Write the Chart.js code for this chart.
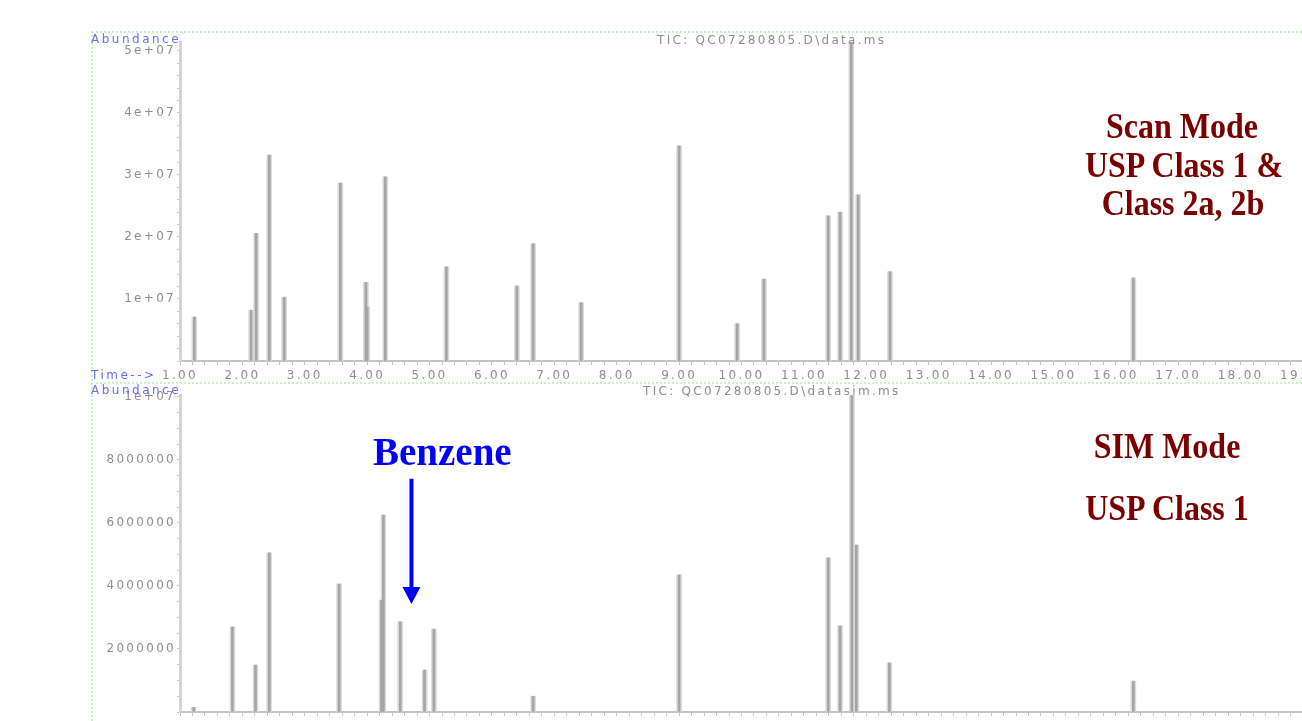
<!DOCTYPE html>
<html>
<head>
<meta charset="utf-8">
<script src="https://cdn.jsdelivr.net/npm/chart.js@4/dist/chart.umd.min.js"></script>
<style>
  html, body { margin: 0; padding: 0; background: #fff; overflow: hidden; }
  body { width: 1302px; height: 721px; position: relative; }
  canvas { position: absolute; }
  .frame { position: absolute; border-color: #c9f0c9; border-style: dotted; border-width: 0; }
  .gray { position: absolute; font: 12px "DejaVu Sans"; letter-spacing: 2.3px; color: #8e8e8e; white-space: nowrap; line-height: 12px; }
  .blue { position: absolute; font: 12px "DejaVu Sans"; letter-spacing: 2.5px; color: #6b6bf5; white-space: nowrap; line-height: 12px; }
  .red { position: absolute; width: 320px; text-align: center; font: bold 32px "Liberation Serif"; line-height: 32px;
         color: #7a0000; white-space: nowrap; transform: scaleY(1.12); transform-origin: 50% 27px; }
  #benzene { position: absolute; left: 373px; top: 432px; font: bold 39px "Liberation Serif"; line-height: 39px; color: #0000ff; }
</style>
</head>
<body>
<div class="frame" style="left:91px; top:31px; width:1211px; border-top-width:2px;"></div>
<div class="frame" style="left:91px; top:31px; height:690px; border-left-width:2px;"></div>
<div class="frame" style="left:91px; top:382px; width:1211px; border-top-width:2px;"></div>

<canvas id="topChart" width="1240" height="353" style="left:90px; top:30px;"></canvas>
<canvas id="simChart" width="1240" height="351" style="left:90px; top:383px;"></canvas>

<div class="blue" style="left:91px; top:33px;">Abundance</div>
<div class="gray" style="left:657px; top:34px;">TIC: QC07280805.D\data.ms</div>
<div class="blue" style="left:91px; top:369px;">Time--&gt;</div>
<div class="blue" style="left:91px; top:384px;">Abundance</div>
<div class="gray" style="left:643px; top:385px;">TIC: QC07280805.D\datasim.ms</div>

<div class="red" style="left:1022px; top:111px;">Scan Mode</div>
<div class="red" style="left:1024px; top:150px;">USP Class 1 &amp;</div>
<div class="red" style="left:1023px; top:188px;">Class 2a, 2b</div>
<div class="red" style="left:1007px; top:431px;">SIM Mode</div>
<div class="red" style="left:1007px; top:493px;">USP Class 1</div>
<div id="benzene">Benzene</div>

<script>
// retention time axis (min)
const xMin = 1.0, xMax = 19.0;
const xTickValues = [1, 2, 3, 4, 5, 6, 7, 8, 9, 10, 11, 12, 13, 14, 15, 16, 17, 18, 19];
const xTickLabels = ['1.00', '2.00', '3.00', '4.00', '5.00', '6.00', '7.00', '8.00', '9.00', '10.00',
                     '11.00', '12.00', '13.00', '14.00', '15.00', '16.00', '17.00', '18.00', '19.00'];

// scan mode TIC peaks
const scanTimes = [1.23, 2.14, 2.22, 2.43, 2.67, 3.57, 3.98, 4.00, 4.29, 5.27, 6.40, 6.66, 7.43,
                   9.00, 9.93, 10.36, 11.39, 11.58, 11.76, 11.87, 12.38, 16.28];
const scanAbundance = [0.71e7, 0.82e7, 2.06e7, 3.32e7, 1.03e7, 2.87e7, 1.27e7, 0.87e7, 2.97e7, 1.52e7, 1.21e7, 1.89e7, 0.94e7,
                       3.47e7, 0.60e7, 1.32e7, 2.34e7, 2.40e7, 5.40e7, 2.68e7, 1.44e7, 1.34e7];
const scanYMax = 5.145e7;
const scanYTicks = [1e7, 2e7, 3e7, 4e7, 5e7];
const scanYLabels = ['1e+07', '2e+07', '3e+07', '4e+07', '5e+07'];

// SIM mode TIC peaks
const simTimes = [1.22, 1.84, 2.21, 2.43, 3.55, 4.23, 4.26, 4.53, 4.92, 5.07, 6.66,
                  9.00, 11.39, 11.58, 11.77, 11.84, 12.37, 16.28];
const simAbundance = [0.15e6, 2.70e6, 1.49e6, 5.05e6, 4.06e6, 3.55e6, 6.25e6, 2.86e6, 1.33e6, 2.63e6, 0.50e6,
                      4.35e6, 4.89e6, 2.73e6, 1.05e7, 5.30e6, 1.56e6, 0.98e6];
const simYMax = 1.006e7;
const simYTicks = [2e6, 4e6, 6e6, 8e6, 1e7];
const simYLabels = ['2000000', '4000000', '6000000', '8000000', '1e+07'];

// benzene marker: time, arrow start abundance, arrow tip abundance
const benzeneArrow = [4.71, 7.4e6, 3.43e6];

const tickFont = { family: 'DejaVu Sans', size: 12 };
const tickGray = '#8e8e8e';

const spacing = {
    id: 'spacing',
    beforeDraw(chart) { chart.ctx.letterSpacing = '2.3px'; }
};

const arrow = {
    id: 'arrow',
    afterDatasetsDraw(chart) {
        if (chart.canvas.id !== 'simChart') return;
        const x = chart.scales.x.getPixelForValue(benzeneArrow[0]);
        const y0 = chart.scales.y.getPixelForValue(benzeneArrow[1]);
        const y1 = chart.scales.y.getPixelForValue(benzeneArrow[2]);
        const ctx = chart.ctx;
        ctx.save();
        ctx.fillStyle = '#0000ff';
        ctx.fillRect(x - 2, y0, 4, y1 - y0 - 14);
        ctx.beginPath();
        ctx.moveTo(x - 9, y1 - 17);
        ctx.lineTo(x + 9, y1 - 17);
        ctx.lineTo(x, y1);
        ctx.closePath();
        ctx.fill();
        ctx.restore();
    }
};

function makeChart(id, times, values, yMax, yTicks, yLabels, minorStep) {
    const pts = times.map((t, i) => ({ x: t, y: values[i] }));
    return new Chart(document.getElementById(id), {
        type: 'bar',
        data: {
            datasets: [
                { data: pts, backgroundColor: '#a3a6a3', barThickness: 2, grouped: false },
                { data: pts, backgroundColor: '#dcd8dc', barThickness: 5, grouped: false }
            ]
        },
        options: {
            responsive: false,
            animation: false,
            events: [],
            layout: { padding: { top: 12, right: 27, left: 0, bottom: 0 } },
            plugins: { legend: { display: false }, tooltip: { enabled: false } },
            scales: {
                x: {
                    type: 'linear',
                    min: xMin,
                    max: xMax,
                    offset: false,
                    afterFit: s => { s.height = 22; },
                    afterBuildTicks: s => {
                        const t = [];
                        for (let v = xMin; v <= xMax + 1e-9; v += 0.2) t.push({ value: Math.round(v * 10) / 10 });
                        s.ticks = t;
                    },
                    grid: { drawOnChartArea: false, tickLength: 4, tickColor: '#c6c6c6', offset: false },
                    border: { color: '#c4c4c4', width: 2 },
                    ticks: {
                        autoSkip: false, maxRotation: 0, padding: 4,
                        font: tickFont, color: tickGray,
                        callback: v => {
                            const i = xTickValues.indexOf(v);
                            return i < 0 ? '' : xTickLabels[i];
                        }
                    }
                },
                y: {
                    min: 0,
                    max: yMax,
                    afterFit: s => { s.width = 90; },
                    afterBuildTicks: s => {
                        const t = [];
                        for (let v = 0; v <= yMax; v += minorStep) t.push({ value: Math.round(v) });
                        s.ticks = t;
                    },
                    grid: { drawOnChartArea: false, tickLength: 3, tickColor: '#d2c8d2' },
                    border: { color: '#d4d4d4', width: 3 },
                    ticks: {
                        autoSkip: false, padding: 1,
                        font: tickFont, color: tickGray,
                        callback: v => {
                            const i = yTicks.indexOf(v);
                            return i < 0 ? '' : yLabels[i];
                        }
                    }
                }
            }
        },
        plugins: [spacing, arrow]
    });
}

makeChart('topChart', scanTimes, scanAbundance, scanYMax, scanYTicks, scanYLabels, 2e6);
makeChart('simChart', simTimes, simAbundance, simYMax, simYTicks, simYLabels, 5e5);
</script>
</body>
</html>
